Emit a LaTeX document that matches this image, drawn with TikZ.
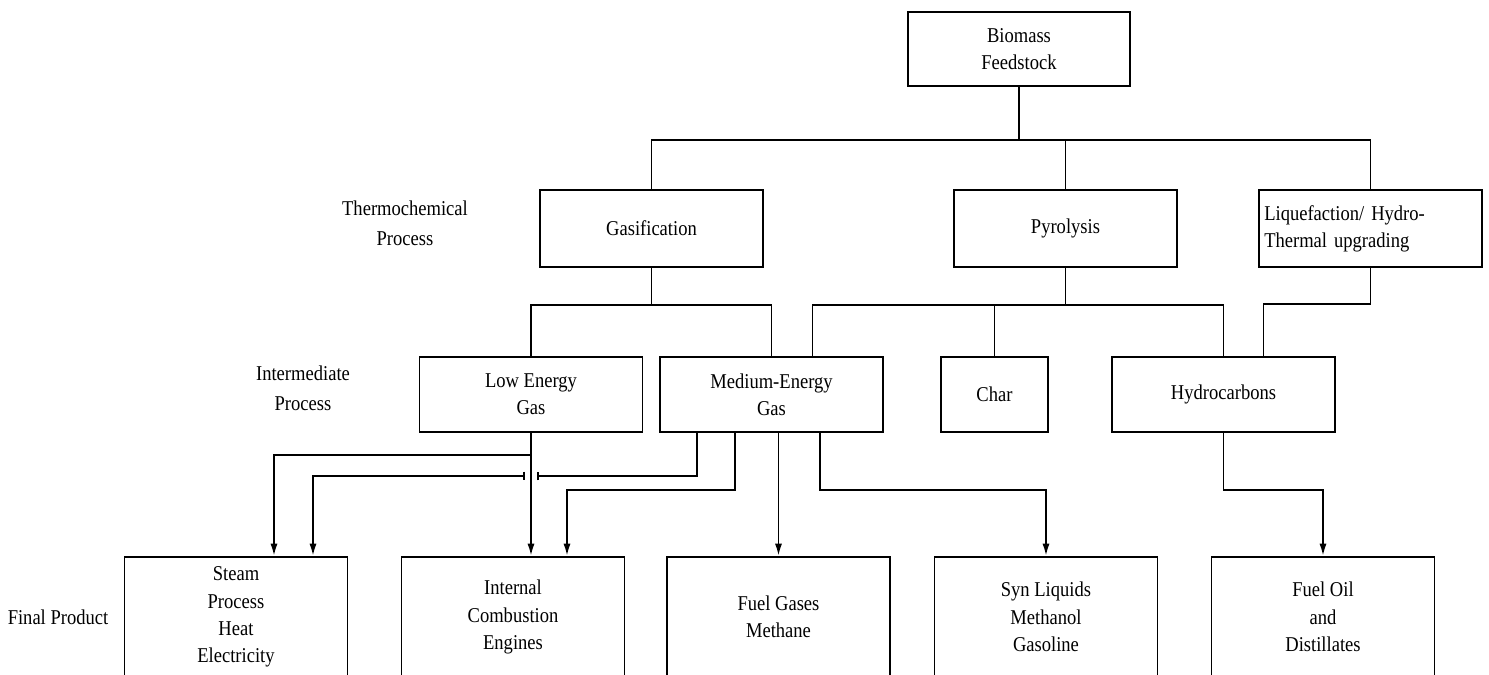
\documentclass[tikz,border=0pt]{standalone}
\usepackage{fontspec}
\setmainfont{Liberation Serif}[FakeStretch=0.88]
\usetikzlibrary{arrows.meta,calc}

\begin{document}
\begin{tikzpicture}[x=0.02cm,y=-0.02cm,
box/.style={draw,line width=1.1pt,align=center,inner sep=3pt,
minimum width=4.46cm,minimum height=1.54cm,
font=\fontsize{12}{15.5}\selectfont},
levelname/.style={align=center,font=\fontsize{12}{17}\selectfont},
link/.style={line width=1.1pt},
>={Latex[length=7pt,width=4pt]},
gaptick/.tip={Bar[width=5pt]}]

\useasboundingbox (0,0) rectangle (1489,675);
\clip (0,0) rectangle (1489,675);

% feedstock
\node[box,minimum width=4.44cm,minimum height=1.48cm] (bio) at (1019,49) {Biomass\\Feedstock};

% thermochemical process
\node[levelname] (thermo) at (405,223) {Thermochemical\\Process};
\node[box] (gas) at (651.5,228.5) {Gasification};
\node[box] (pyr) at (1065.5,228.5) {Pyrolysis};
\node[box,align=left,text width=4.25cm] (liq) at (1370.5,228.5) {Liquefaction/ Hydro-\\Thermal upgrading};

% intermediate process
\node[levelname] (inter) at (303,388) {Intermediate\\Process};
\node[box,minimum height=1.5cm] (low) at (531,394.5) {Low Energy\\Gas};
\node[box,minimum height=1.5cm] (med) at (771.5,394.5) {Medium-Energy\\Gas};
\node[box,minimum height=1.5cm,minimum width=2.14cm] (char) at (994.5,394.5) {Char};
\node[box,minimum height=1.5cm] (hyd) at (1223.5,394.5) {Hydrocarbons};

% final product
\node[levelname] (final) at (58,617) {Final Product};
\node[box,minimum height=2.4cm] (steam) at (236,617) {Steam\\Process\\Heat\\Electricity};
\node[box,minimum height=2.4cm] (ice) at (513,617) {Internal\\Combustion\\Engines};
\node[box,minimum height=2.4cm] (fuel) at (778.5,617) {Fuel Gases\\Methane};
\node[box,minimum height=2.4cm] (syn) at (1046,617) {Syn Liquids\\Methanol\\Gasoline};
\node[box,minimum height=2.4cm] (oil) at (1323,617) {Fuel Oil\\and\\Distillates};

% upper branches
\coordinate (topbus) at (1019,140);
\coordinate (gasbus) at (651.5,305);
\coordinate (pyrbus) at (1065.5,305);

\draw[link] (bio) -- (topbus);
\draw[link]
(gas.north)
|-
(topbus)
-|
(liq.north);
\draw[link] (topbus) -| (pyr.north);

\draw[link] (gas) -- (gasbus);
\draw[link]
(low.north)
|-
(gasbus)
-|
(med.north);

\draw[link] (pyr) -- (pyrbus);
\draw[link]
($(med.north)+(41,0)$)
|-
(pyrbus)
-|
(hyd.north);
\draw[link] (pyrbus -| char.north) -- (char.north);

\draw[link]
(liq.south)
|-
($(hyd.north)+(40,-52)$)
--
($(hyd.north)+(40,0)$);

% lower branches
\coordinate (lowtap) at (low.south |- 0,455);
\coordinate (gapR) at (537,476);
\coordinate (gapL) at (525,476);

\draw[link,->] (low.south) -- (low.south |- ice.north);
\draw[link,->] (lowtap) -| ($(steam.north)+(38,0)$);

\draw[link,-gaptick] ($(med.south)+(-74.5,0)$) |- (gapR);
\draw[link,gaptick->] (gapL) -| ($(steam.north)+(77,0)$);

\draw[link,->]
($(med.south)+(-36.5,0)$)
|-
($(ice.north)+(54,-66)$)
--
($(ice.north)+(54,0)$);

\draw[link,->] (fuel.north |- med.south) -- (fuel.north);

\draw[link,->]
($(med.south)+(48.5,0)$)
|-
($(syn.north)+(0,-66)$)
--
(syn.north);

\draw[link,->]
(hyd.south)
|-
($(oil.north)+(0,-66)$)
--
(oil.north);

\end{tikzpicture}
\end{document}
